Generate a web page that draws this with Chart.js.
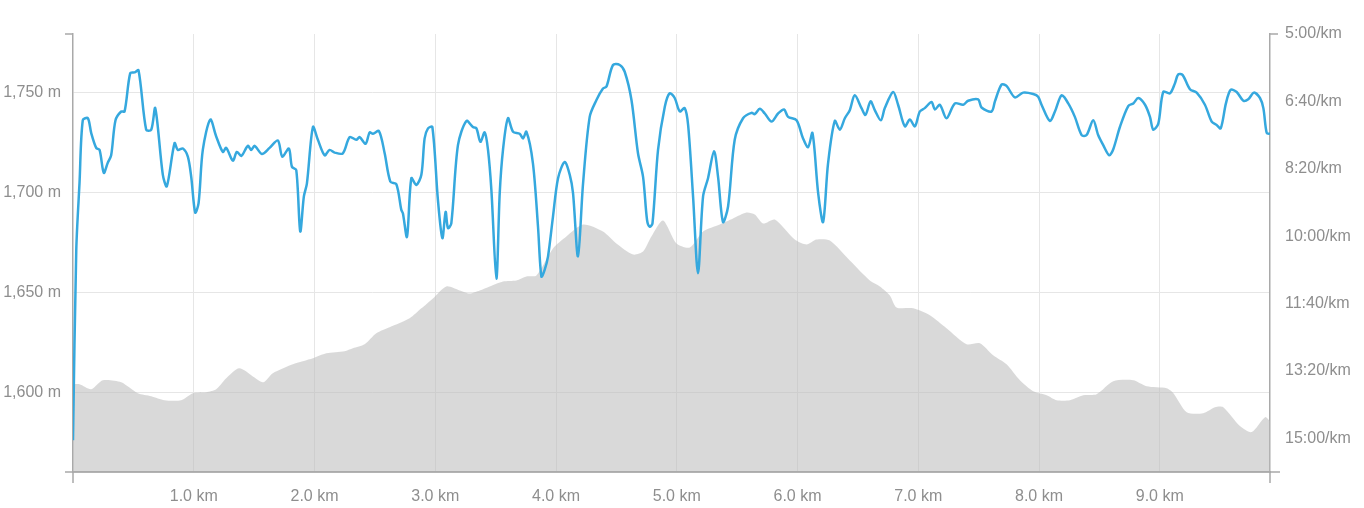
<!DOCTYPE html>
<html>
<head>
<meta charset="utf-8">
<script src="https://cdn.jsdelivr.net/npm/chart.js@4/dist/chart.umd.min.js"></script>
<style>
  body { margin: 0; background: #fff; }
  #wrap { width: 1364px; height: 508px; }
</style>
</head>
<body>
<div id="wrap"><canvas id="chart"></canvas></div>
<script>
// pace line (km, seconds per km)
const paceKm = [0.000,0.027,0.054,0.081,0.123,0.151,0.192,0.220,0.255,0.288,
  0.316,0.352,0.399,0.427,0.474,0.510,0.543,0.606,0.648,0.681,
  0.744,0.777,0.841,0.868,0.910,0.951,0.979,1.012,1.040,1.075,
  1.137,1.186,1.241,1.269,1.324,1.357,1.394,1.448,1.476,1.504,
  1.564,1.628,1.697,1.733,1.788,1.813,1.849,1.882,1.912,1.937,
  1.987,2.028,2.084,2.125,2.167,2.235,2.291,2.346,2.374,2.423,
  2.457,2.484,2.534,2.581,2.628,2.678,2.719,2.732,2.766,2.802,
  2.843,2.885,2.912,2.940,2.976,3.022,3.059,3.086,3.105,3.133,
  3.188,3.258,3.312,3.341,3.374,3.409,3.437,3.465,3.506,3.534,
  3.561,3.602,3.644,3.699,3.727,3.755,3.809,3.851,3.879,3.906,
  3.934,3.975,4.017,4.072,4.114,4.141,4.182,4.224,4.279,4.335,
  4.389,4.418,4.472,4.528,4.569,4.625,4.679,4.721,4.754,4.776,
  4.799,4.845,4.901,4.942,4.983,5.025,5.066,5.094,5.135,5.176,
  5.218,5.259,5.309,5.342,5.383,5.425,5.480,5.549,5.619,5.646,
  5.688,5.729,5.785,5.839,5.889,5.922,5.992,6.046,6.088,6.124,
  6.171,6.212,6.253,6.309,6.350,6.392,6.433,6.474,6.530,6.563,
  6.605,6.640,6.690,6.723,6.792,6.833,6.889,6.930,6.972,7.013,
  7.054,7.110,7.138,7.179,7.234,7.303,7.372,7.413,7.496,7.524,
  7.607,7.635,7.690,7.731,7.800,7.869,7.952,7.993,8.021,8.090,
  8.132,8.187,8.242,8.297,8.353,8.394,8.449,8.490,8.532,8.582,
  8.615,8.670,8.739,8.781,8.822,8.878,8.919,8.946,8.988,9.029,
  9.085,9.126,9.153,9.190,9.250,9.306,9.374,9.430,9.471,9.505,
  9.548,9.587,9.637,9.692,9.733,9.780,9.830,9.858,9.886,9.913];
const paceSec = [903,621,521,428,425,447,469,472,506,491,
  480,428,415,415,358,357,354,442,442,410,
  509,526,462,472,470,482,512,565,551,472,
  427,452,475,469,488,475,481,466,472,466,
  478,469,458,482,470,497,502,593,541,522,
  438,457,480,472,476,477,453,457,453,463,
  446,448,444,477,519,523,561,566,601,514,
  524,509,455,440,438,546,603,564,588,581,
  465,429,438,440,460,446,472,532,663,536,
  472,425,445,448,455,445,492,586,660,650,
  630,571,514,490,509,536,630,522,423,398,
  381,378,346,346,356,398,477,512,576,586,
  581,472,408,388,395,415,410,435,541,655,
  541,514,474,512,579,556,457,425,417,419,
  411,418,430,418,412,423,428,455,468,447,
  536,579,492,429,442,425,413,391,410,420,
  400,413,428,410,386,405,437,427,437,415,
  410,401,412,405,425,403,405,399,397,409,
  415,400,375,377,394,387,389,393,405,429,
  415,391,403,423,450,450,428,450,465,480,
  471,438,407,403,395,405,423,442,433,386,
  388,373,360,361,382,387,405,430,435,440,
  403,383,386,399,397,387,395,410,447,448];

// elevation profile (km, metres)
const elevKm = [0.000,0.054,0.151,0.247,0.399,0.537,0.648,0.758,0.896,0.993,
  1.104,1.186,1.269,1.379,1.573,1.655,1.821,1.987,2.098,2.249,
  2.318,2.415,2.512,2.622,2.788,2.885,2.981,3.092,3.202,3.285,
  3.368,3.451,3.561,3.672,3.755,3.838,3.975,4.086,4.224,4.389,
  4.500,4.638,4.721,4.790,4.886,4.998,5.108,5.218,5.356,5.466,
  5.577,5.646,5.715,5.812,5.977,6.075,6.157,6.268,6.433,6.599,
  6.682,6.765,6.820,6.958,7.096,7.234,7.400,7.510,7.620,7.731,
  7.842,7.952,8.063,8.146,8.256,8.366,8.477,8.615,8.781,8.891,
  9.057,9.113,9.223,9.360,9.457,9.526,9.664,9.761,9.872,9.913];
const elevM = [1604,1604,1601.5,1606,1605,1599.5,1598,1596,1596,1599.5,
  1600,1601.5,1607,1612,1605,1609.5,1614,1617,1619.5,1620.5,
  1622,1624,1629.5,1632.5,1637,1642,1647,1653,1651,1649.5,
  1651,1653,1655.5,1656,1658,1658.5,1672,1678,1684,1680.5,
  1674.5,1669,1670.5,1678,1686,1674.5,1672.5,1680.5,1684,1687,
  1690,1689,1684.5,1686.5,1676.5,1674,1676.5,1676,1666,1656,
  1653,1648.5,1642.5,1642,1638.5,1632,1624,1624.5,1618.5,1614,
  1606,1600.5,1598.5,1596,1596,1598.5,1599,1605.5,1606,1603,
  1602,1599.5,1590,1589.5,1592.5,1592.5,1583,1580,1587.5,1585.5];

// axis ticks
const kmTicks = [1, 2, 3, 4, 5, 6, 7, 8, 9];
const elevTicks = [1600, 1650, 1700, 1750];
const paceTicks = [300, 400, 500, 600, 700, 800, 900];

const axisColor = '#a9a9a9';
const gridColor = '#e6e6e6';
const labelColor = '#8e8e8e';
const labelFont = { family: "'Liberation Sans', Arial, sans-serif", size: 16 };

function fmtPace(v) {
    const m = Math.floor(v / 60);
    const s = Math.round(v % 60);
    return m + ':' + (s < 10 ? '0' + s : s) + '/km';
}

// little axis end marks like the original widget
const axisEnds = {
    id: 'axisEnds',
    afterDraw(chart) {
        const { ctx, chartArea: a } = chart;
        ctx.save();
        ctx.strokeStyle = axisColor;
        ctx.lineWidth = 1.5;
        ctx.beginPath();
        ctx.moveTo(a.left - 8, a.top); ctx.lineTo(a.left, a.top);
        ctx.moveTo(a.right, a.top); ctx.lineTo(a.right + 8, a.top);
        ctx.moveTo(a.left - 8, a.bottom); ctx.lineTo(a.right + 10, a.bottom);
        ctx.moveTo(a.left, a.bottom); ctx.lineTo(a.left, a.bottom + 11);
        ctx.moveTo(a.right, a.bottom); ctx.lineTo(a.right, a.bottom + 11);
        ctx.stroke();
        ctx.restore();
    }
};

const ctx = document.getElementById('chart').getContext('2d');
new Chart(ctx, {
    type: 'line',
    data: {
        datasets: [{
            label: 'Pace',
            data: paceKm.map((k, i) => ({ x: k, y: paceSec[i] })),
            yAxisID: 'yPace',
            borderColor: '#35a8de',
            borderWidth: 2.5,
            pointRadius: 0,
            tension: 0.3,
            fill: false,
            order: 0
        }, {
            label: 'Elevation',
            data: elevKm.map((k, i) => ({ x: k, y: elevM[i] })),
            yAxisID: 'yElev',
            borderWidth: 0,
            backgroundColor: 'rgba(185,185,185,0.55)',
            pointRadius: 0,
            tension: 0.25,
            fill: 'start',
            order: 1
        }]
    },
    options: {
        responsive: true,
        maintainAspectRatio: false,
        animation: false,
        layout: { padding: { top: 34, left: 0, right: 0, bottom: 0 } },
        plugins: { legend: { display: false }, tooltip: { enabled: false } },
        scales: {
            x: {
                type: 'linear',
                min: 0,
                max: 9.913,
                afterBuildTicks: s => { s.ticks = kmTicks.map(v => ({ value: v })); },
                afterFit: s => { s.height = 36; },
                grid: { color: gridColor, drawTicks: false },
                border: { color: axisColor, width: 1.5 },
                ticks: {
                    autoSkip: false, maxRotation: 0, padding: 15,
                    color: labelColor, font: labelFont,
                    callback: v => v.toFixed(1) + ' km'
                }
            },
            yElev: {
                position: 'left',
                min: 1560,
                max: 1779.5,
                afterBuildTicks: s => { s.ticks = elevTicks.map(v => ({ value: v })); },
                afterFit: s => { s.width = 73; },
                grid: { color: gridColor, drawTicks: false },
                border: { color: axisColor, width: 1.5 },
                ticks: {
                    padding: 12, color: labelColor, font: labelFont,
                    callback: v => v.toLocaleString('en-US') + ' m'
                }
            },
            yPace: {
                position: 'right',
                reverse: true,
                min: 300,
                max: 950,
                afterBuildTicks: s => { s.ticks = paceTicks.map(v => ({ value: v })); },
                afterFit: s => { s.width = 94; },
                grid: { drawOnChartArea: false, drawTicks: false },
                border: { color: axisColor, width: 1.5 },
                ticks: {
                    padding: 15, color: labelColor, font: labelFont,
                    callback: v => fmtPace(v)
                }
            }
        }
    },
    plugins: [axisEnds]
});
</script>
</body>
</html>
